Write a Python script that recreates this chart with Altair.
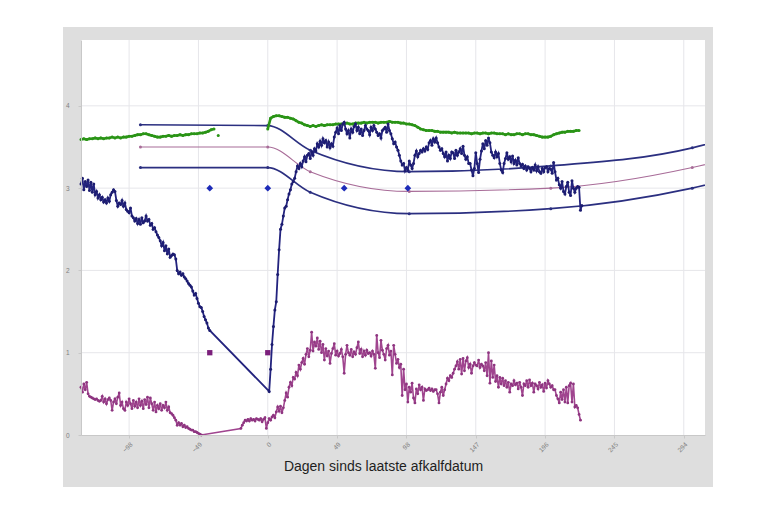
import altair as alt
import pandas as pd

# ---------------- data ----------------
x_ticks = [-98, -49, 0, 49, 98, 147, 196, 245, 294]
y_ticks = [0, 1, 2, 3, 4]

# dense navy series (daily)
navy_a_start = -132
navy_a = [3.05, 3.12, 2.98, 3.08, 3.02, 3.10, 2.97, 3.07, 2.95, 3.05,
          2.92, 2.96, 2.88, 2.92, 2.86, 2.89, 2.83, 2.86, 2.82, 2.88,
          2.84, 2.92, 2.95, 2.98, 2.96, 2.85, 2.78, 2.82, 2.80, 2.85,
          2.78, 2.82, 2.74, 2.72, 2.70, 2.76, 2.66, 2.64, 2.60, 2.63,
          2.57, 2.62, 2.56, 2.64, 2.58, 2.60, 2.66, 2.60, 2.62, 2.55,
          2.57, 2.50, 2.52, 2.47, 2.43, 2.40, 2.36, 2.30, 2.34, 2.24,
          2.30, 2.20, 2.26, 2.16, 2.18, 2.20, 2.19, 2.14, 2.00, 1.96,
          1.98, 1.94, 1.96, 1.92, 1.90, 1.87, 1.84, 1.82, 1.80, 1.75,
          1.70, 1.72, 1.66, 1.60, 1.56, 1.55, 1.50, 1.44, 1.40, 1.36,
          1.30, 1.27]
navy_b_start = 1
navy_b = [0.53, 0.80, 1.10, 1.32, 1.52, 1.62, 1.95, 2.25, 2.50, 2.56,
          2.66, 2.76, 2.78, 2.86, 2.93, 2.98, 3.05, 3.08, 3.12, 3.20,
          3.27, 3.24, 3.30, 3.26, 3.33, 3.38, 3.32, 3.40, 3.42, 3.36,
          3.44, 3.40, 3.48, 3.45, 3.54, 3.50, 3.57, 3.52, 3.60, 3.55,
          3.58, 3.50, 3.56, 3.49, 3.54, 3.51, 3.62, 3.68, 3.73, 3.66,
          3.76, 3.70, 3.78, 3.80, 3.72, 3.66, 3.70, 3.61, 3.72, 3.68,
          3.75, 3.78, 3.70, 3.74, 3.66, 3.72, 3.64, 3.70, 3.76, 3.72,
          3.70, 3.65, 3.74, 3.70, 3.76, 3.72, 3.68, 3.64, 3.66, 3.61,
          3.70, 3.72, 3.74, 3.68, 3.78, 3.70, 3.66, 3.60, 3.54, 3.56,
          3.50, 3.46, 3.40, 3.33, 3.28, 3.30, 3.21, 3.25, 3.22, 3.33,
          3.28, 3.24, 3.30, 3.40, 3.45, 3.38, 3.42, 3.46, 3.44, 3.48,
          3.45, 3.50, 3.47, 3.55, 3.58, 3.52, 3.60, 3.56, 3.61, 3.55,
          3.50, 3.46, 3.48, 3.42, 3.38, 3.44, 3.33, 3.40, 3.36, 3.44,
          3.43, 3.36, 3.46, 3.40, 3.44, 3.48, 3.42, 3.51, 3.40, 3.35,
          3.38, 3.30, 3.30, 3.22, 3.15, 3.24, 3.43, 3.30, 3.19, 3.35,
          3.45, 3.54, 3.48, 3.58, 3.52, 3.61, 3.55, 3.44, 3.40, 3.37,
          3.44, 3.38, 3.42, 3.30, 3.22, 3.19, 3.30, 3.36, 3.43, 3.35,
          3.38, 3.32, 3.39, 3.30, 3.34, 3.28, 3.37, 3.30, 3.27, 3.29,
          3.24, 3.27, 3.22, 3.26, 3.24, 3.20, 3.25, 3.22, 3.28, 3.21,
          3.26, 3.20, 3.18, 3.24, 3.20, 3.25, 3.26, 3.20, 3.24, 3.23,
          3.18, 3.31, 3.20, 3.10, 3.12, 3.04, 3.00, 3.08, 2.96, 2.93,
          3.02, 3.07, 2.95, 2.91, 3.09, 3.00, 2.95, 3.00, 3.02, 3.01,
          2.73, 2.79]

# dense magenta series (daily)
mag_a_start = -132
mag_a = [0.58, 0.52, 0.62, 0.55, 0.64, 0.50, 0.47, 0.46, 0.45, 0.44,
         0.43, 0.44, 0.42, 0.41, 0.42, 0.47, 0.40, 0.44, 0.38, 0.43,
         0.45, 0.42, 0.30, 0.40, 0.44, 0.38, 0.46, 0.51, 0.36, 0.40,
         0.32, 0.30, 0.40, 0.36, 0.44, 0.38, 0.32, 0.42, 0.35, 0.40,
         0.33, 0.44, 0.36, 0.41, 0.32, 0.43, 0.37, 0.46, 0.33, 0.45,
         0.38, 0.30, 0.40, 0.28, 0.36, 0.32, 0.38, 0.30, 0.36, 0.33,
         0.40, 0.30, 0.34, 0.27, 0.26, 0.24, 0.21, 0.18, 0.12, 0.15,
         0.12, 0.14, 0.10, 0.12, 0.09, 0.10, 0.08, 0.07, 0.06, 0.06,
         0.04, 0.04, 0.03, 0.02, 0.01, 0.00]
mag_b_start = -19
mag_b = [0.08, 0.12, 0.15, 0.18, 0.17, 0.19, 0.17, 0.20, 0.18, 0.19,
         0.17, 0.20, 0.19, 0.18, 0.20, 0.16, 0.19, 0.21, 0.08, 0.15,
         0.20, 0.18, 0.22, 0.24, 0.21, 0.28, 0.34, 0.29, 0.35, 0.27,
         0.33, 0.42, 0.51, 0.46, 0.58, 0.64, 0.60, 0.70, 0.68, 0.76,
         0.72, 0.85, 0.80, 0.88, 0.93, 0.86, 0.98, 1.05, 0.95, 1.03,
         1.25, 1.02, 1.13, 1.08, 1.18, 1.04, 1.14, 1.00, 1.10, 0.91,
         1.05, 0.96, 1.02, 0.87, 0.99, 1.05, 1.11, 0.97, 1.02, 0.96,
         0.99, 1.04, 0.95, 0.75, 0.98, 1.09, 1.00, 0.97, 1.04, 0.95,
         1.01, 0.98, 1.06, 1.13, 0.99, 1.04, 0.95, 1.02, 0.97, 1.03,
         0.99, 1.00, 0.96, 1.02, 0.98, 0.81, 1.21, 1.00, 0.94, 1.15,
         1.03, 0.98, 0.91, 1.05, 1.09, 0.97, 1.02, 0.73, 1.09, 0.98,
         0.87, 0.92, 0.82, 0.86, 0.48, 0.80, 0.55, 0.62, 0.40, 0.58,
         0.52, 0.63, 0.45, 0.39, 0.56, 0.50, 0.61, 0.55, 0.58, 0.42,
         0.56, 0.54, 0.55, 0.57, 0.54, 0.56, 0.53, 0.55, 0.55, 0.50,
         0.39, 0.52, 0.58, 0.48, 0.55, 0.62, 0.69, 0.66, 0.72, 0.70,
         0.75, 0.80, 0.84, 0.89, 0.80, 0.92, 0.74, 0.93, 0.78, 0.90,
         0.94, 0.82, 0.86, 0.75, 0.84, 0.88, 0.85, 0.84, 0.91, 0.82,
         0.86, 0.84, 0.78, 0.88, 0.72, 1.00, 0.63, 0.90, 0.70, 0.85,
         0.65, 0.72, 0.58, 0.70, 0.62, 0.69, 0.60, 0.66, 0.58, 0.64,
         0.52, 0.62, 0.60, 0.66, 0.61, 0.63, 0.56, 0.64, 0.58, 0.48,
         0.62, 0.60, 0.66, 0.58, 0.67, 0.60, 0.63, 0.52, 0.62, 0.60,
         0.56, 0.64, 0.58, 0.61, 0.53, 0.63, 0.57, 0.66, 0.62, 0.58,
         0.60, 0.55, 0.55, 0.48, 0.44, 0.39, 0.52, 0.43, 0.55, 0.40,
         0.58, 0.39, 0.60, 0.63, 0.40, 0.62, 0.34, 0.36, 0.33, 0.25,
         0.18]

# green series (every 2 days)
green_a_start = -132
green_a = [3.59, 3.60, 3.59, 3.60, 3.60, 3.61, 3.60, 3.61, 3.60, 3.61,
           3.61, 3.62, 3.61, 3.62, 3.61, 3.62, 3.62, 3.63, 3.63, 3.64,
           3.65, 3.65, 3.66, 3.66, 3.65, 3.64, 3.63, 3.62, 3.62, 3.63,
           3.63, 3.64, 3.63, 3.64, 3.64, 3.65, 3.64, 3.65, 3.65, 3.66,
           3.66, 3.66, 3.67, 3.67, 3.68, 3.69, 3.71, 3.72]
green_lone_day = [-35]
green_lone = [3.64]
green_b_first = [0]
green_b_first_val = [3.72]
green_b_start = 2
green_b = [3.85, 3.87, 3.88, 3.88, 3.87, 3.86, 3.86, 3.85, 3.84, 3.82,
           3.80, 3.79, 3.77, 3.76, 3.75, 3.76, 3.75, 3.76, 3.77, 3.76,
           3.77, 3.77, 3.77, 3.78, 3.78, 3.78, 3.78, 3.79, 3.78, 3.78,
           3.79, 3.79, 3.79, 3.80, 3.79, 3.80, 3.80, 3.80, 3.79, 3.80,
           3.80, 3.80, 3.81, 3.80, 3.80, 3.80, 3.79, 3.79, 3.78, 3.78,
           3.77, 3.76, 3.74, 3.72, 3.71, 3.70, 3.70, 3.70, 3.69, 3.69,
           3.68, 3.68, 3.68, 3.68, 3.67, 3.68, 3.67, 3.67, 3.67, 3.67,
           3.67, 3.66, 3.67, 3.67, 3.66, 3.67, 3.67, 3.66, 3.67, 3.67,
           3.66, 3.66, 3.66, 3.65, 3.66, 3.65, 3.65, 3.66, 3.66, 3.65,
           3.66, 3.66, 3.65, 3.65, 3.64, 3.63, 3.62, 3.62, 3.62, 3.63,
           3.65, 3.66, 3.67, 3.68, 3.68, 3.69, 3.69, 3.69, 3.70, 3.70]

# reference (norm) curves
curve_days = [-90, 0, 30, 100, 200, 300, 320]
curve_upper = [3.77, 3.76, 3.46, 3.20, 3.27, 3.49, 3.58]
curve_mid = [3.50, 3.50, 3.20, 2.96, 3.00, 3.25, 3.33]
curve_low = [3.25, 3.25, 2.95, 2.69, 2.75, 3.00, 3.08]
curve_marker_days = [-90, 0, 30, 100, 200, 300]

diamond_days = [-41, 0, 54, 99]
diamond_vals = [3.0, 3.0, 3.0, 3.0]
square_days = [-41, 0]
square_vals = [1.0, 1.0]

# ---------------- frames ----------------
def seg(segname, days, vals):
    return pd.DataFrame({"seg": segname, "day": days, "value": vals})

navy_df = pd.concat([
    seg("all", list(range(navy_a_start, navy_a_start + len(navy_a))), navy_a),
    seg("all", list(range(navy_b_start, navy_b_start + len(navy_b))), navy_b),
]).sort_values("day")

mag_df = pd.concat([
    seg("all", list(range(mag_a_start, mag_a_start + len(mag_a))), mag_a),
    seg("all", list(range(mag_b_start, mag_b_start + len(mag_b))), mag_b),
]).sort_values("day")

green_df = pd.concat([
    seg("a", list(range(green_a_start, green_a_start + 2 * len(green_a), 2)), green_a),
    seg("lone", green_lone_day, green_lone),
    seg("b", green_b_first, green_b_first_val),
    seg("b", list(range(green_b_start, green_b_start + 2 * len(green_b), 2)), green_b),
])

up_df = seg("u", curve_days, curve_upper)
mid_df = seg("m", curve_days, curve_mid)
low_df = seg("l", curve_days, curve_low)

diam_df = pd.DataFrame({"day": diamond_days, "value": diamond_vals})
sq_df = pd.DataFrame({"day": square_days, "value": square_vals})
xgrid_df = pd.DataFrame({"day": x_ticks})
ygrid_df = pd.DataFrame({"value": y_ticks[1:]})

# ---------------- scales / axes ----------------
W, H = 624, 395
xs = alt.Scale(domain=[-132, 309], nice=False, zero=False)
ys = alt.Scale(domain=[0, 4.8], nice=False, zero=False)

x_axis = alt.Axis(values=x_ticks, labelAngle=-45, labelFontSize=6.5, labelColor="#808080",
                  labelFont="Liberation Sans", labelPadding=3,
                  tickSize=3, tickColor="#c8c8c8", domainColor="#c8c8c8",
                  grid=False, zindex=1,
                  title="Dagen sinds laatste afkalfdatum", titleFontSize=14,
                  titleFont="Liberation Sans", titleFontWeight="normal",
                  titleColor="#1e1e1e", titleX=302, titleY=31,
                  titleBaseline="middle", titleAlign="center")
y_axis = alt.Axis(values=y_ticks, labelFontSize=6.5, labelColor="#808080",
                  labelFont="Liberation Sans", labelPadding=9,
                  tickSize=3, tickColor="#c8c8c8", domainColor="#c8c8c8",
                  grid=False, zindex=1, title="")

X = alt.X("day:Q", scale=xs, axis=x_axis, title="Dagen sinds laatste afkalfdatum")
Y = alt.Y("value:Q", scale=ys, axis=y_axis, title="")

one = pd.DataFrame({"k": [0]})
frame = alt.Chart(one).mark_rect(fill="#dedede").encode(
    x=alt.value(-18), x2=alt.value(632), y=alt.value(-13), y2=alt.value(447))
plotbg = alt.Chart(one).mark_rect(fill="#ffffff").encode(
    x=alt.value(0), x2=alt.value(W), y=alt.value(0), y2=alt.value(H))

vgrid = alt.Chart(xgrid_df).mark_rule(color="#e6e6ea", strokeWidth=1).encode(x=X)
hgrid = alt.Chart(ygrid_df).mark_rule(color="#e6e6ea", strokeWidth=1).encode(y=Y)

NAVY_C = "#2b2f80"
MID_C = "#a86c98"


def curve(df, color, width):
    line = alt.Chart(df).mark_line(interpolate="monotone", clip=True,
                                   color=color, strokeWidth=width).encode(x=X, y=Y)
    pts = alt.Chart(df[df["day"].isin(curve_marker_days)]).mark_point(
        filled=True, size=9, opacity=1, color=color).encode(x=X, y=Y)
    return line + pts


curves = curve(up_df, NAVY_C, 1.7) + curve(mid_df, MID_C, 1.1) + curve(low_df, NAVY_C, 1.7)

green_line = alt.Chart(green_df).mark_line(color="#2a9416", strokeWidth=2.6).encode(
    x=X, y=Y, detail="seg:N")
green_pts = alt.Chart(green_df).mark_point(filled=True, size=9, color="#2a9416", opacity=1).encode(
    x=X, y=Y)

mag_line = alt.Chart(mag_df).mark_line(color="#a0458f", strokeWidth=1.6).encode(x=X, y=Y)
mag_pts = alt.Chart(mag_df).mark_point(filled=True, size=8, color="#8e3580", opacity=1).encode(x=X, y=Y)

navy_line = alt.Chart(navy_df).mark_line(color="#23237e", strokeWidth=1.8).encode(x=X, y=Y)
navy_pts = alt.Chart(navy_df).mark_point(filled=True, size=9, color="#1c1c70", opacity=1).encode(x=X, y=Y)

squares = alt.Chart(sq_df).mark_point(shape="square", filled=True, size=28,
                                      color="#7b1f7b", opacity=1).encode(x=X, y=Y)
diamonds = alt.Chart(diam_df).mark_point(shape="diamond", filled=True, size=45,
                                         color="#1d2bb8", opacity=1).encode(x=X, y=Y)

chart = alt.layer(
    frame, plotbg, vgrid, hgrid,
    curves,
    green_line, green_pts,
    mag_line, mag_pts,
    squares,
    navy_line, navy_pts,
    diamonds,
).properties(
    width=W, height=H,
    autosize=alt.AutoSizeParams(type="none"),
    padding={"left": 73, "top": 32, "right": 57, "bottom": 70},
).configure(background="#ffffff").configure_view(stroke=None)

chart.save("out.html", embed_options={"renderer": "svg", "actions": False})
